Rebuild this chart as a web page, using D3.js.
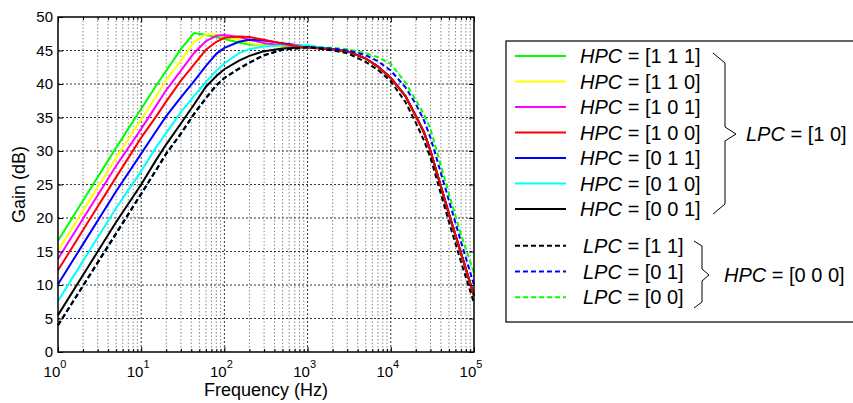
<!DOCTYPE html>
<html><head><meta charset="utf-8">
<script src="https://cdn.jsdelivr.net/npm/d3@7"></script>
<style>
body{margin:0;background:#fff}
svg{display:block;font-family:"Liberation Sans",Arial,Helvetica,sans-serif}
</style>
</head><body><svg id="c" width="853" height="403"></svg>
<script>
// ---- data ----
const freqs = [1, 2, 5, 10, 15, 20, 30, 43, 60, 80, 100, 150, 200, 300, 500, 1000, 2000, 3000, 5000, 7000, 10000, 15000, 20000, 25000, 30000, 50000, 70000, 100000];
const hpc111 = [16.6, 22.6, 30.5, 36.3, 39.7, 42.0, 45.2, 47.6, 47.3, 47.0, 46.7, 46.2, 45.9, 45.8, 45.7, 45.5, 45.2, 44.9, 43.8, 42.6, 40.9, 38.2, 35.2, 32.8, 30.0, 20.6, 14.7, 8.4];
const hpc110 = [15.1, 21.1, 29.0, 34.7, 38.1, 40.6, 43.5, 46.3, 47.4, 47.4, 47.1, 46.6, 46.1, 45.7, 45.6, 45.5, 45.2, 44.9, 43.8, 42.6, 40.9, 38.2, 35.2, 32.8, 30.0, 20.6, 14.7, 8.4];
const hpc101 = [13.9, 19.9, 27.8, 33.3, 36.7, 39.1, 42.0, 44.6, 46.4, 47.2, 47.3, 47.0, 46.6, 46.1, 45.8, 45.5, 45.2, 44.9, 43.8, 42.6, 40.9, 38.2, 35.2, 32.8, 30.0, 20.6, 14.7, 8.4];
const hpc100 = [12.2, 18.2, 26.1, 32.0, 35.1, 37.4, 40.5, 42.9, 45.1, 46.3, 46.9, 47.1, 47.0, 46.6, 46.0, 45.4, 45.2, 44.9, 43.8, 42.6, 40.9, 38.2, 35.2, 32.8, 30.0, 20.6, 14.7, 8.4];
const hpc011 = [10.1, 16.1, 24.0, 29.6, 32.9, 35.2, 38.0, 40.4, 42.7, 44.5, 45.4, 46.3, 46.6, 46.5, 46.1, 45.6, 45.2, 44.9, 43.8, 42.6, 40.9, 38.2, 35.2, 32.8, 30.0, 20.6, 14.7, 8.4];
const hpc010 = [7.6, 13.6, 21.5, 27.0, 30.5, 32.7, 35.8, 38.2, 40.3, 42.0, 43.1, 44.6, 45.2, 45.6, 45.8, 45.8, 45.2, 44.9, 43.8, 42.6, 40.9, 38.2, 35.2, 32.8, 30.0, 20.6, 14.7, 8.4];
const hpc001 = [5.5, 11.5, 19.4, 25.0, 28.6, 31.0, 34.1, 36.9, 39.6, 41.2, 42.2, 43.5, 44.2, 44.9, 45.3, 45.5, 45.2, 44.9, 43.8, 42.6, 40.9, 38.2, 35.2, 32.8, 30.0, 20.6, 14.7, 8.4];
const lpc11 = [4.0, 9.9, 17.7, 23.6, 27.1, 29.6, 32.6, 35.5, 37.9, 39.8, 40.9, 42.3, 43.2, 44.3, 45.1, 45.5, 45.0, 44.6, 43.3, 42.1, 40.4, 37.3, 34.2, 31.6, 29.0, 19.4, 13.4, 7.3];
const lpc01 = [4.0, 9.9, 17.7, 23.6, 27.1, 29.6, 32.6, 35.5, 37.9, 39.8, 40.9, 42.3, 43.2, 44.3, 45.1, 45.5, 45.3, 45.0, 44.3, 43.4, 42.0, 39.5, 37.0, 34.6, 32.0, 22.6, 16.4, 10.0];
const lpc00 = [4.0, 9.9, 17.7, 23.6, 27.1, 29.6, 32.6, 35.5, 37.9, 39.8, 40.9, 42.3, 43.2, 44.3, 45.1, 45.5, 45.4, 45.2, 44.6, 44.0, 43.0, 40.2, 37.6, 35.5, 33.3, 23.6, 17.5, 11.8];
const yTicks = [0, 5, 10, 15, 20, 25, 30, 35, 40, 45, 50];
const xTickExps = [0, 1, 2, 3, 4, 5];
const xLabel = "Frequency (Hz)";
const yLabel = "Gain (dB)";
const solidLabels = ["[1 1 1]", "[1 1 0]", "[1 0 1]", "[1 0 0]", "[0 1 1]", "[0 1 0]", "[0 0 1]"];
const dashedLabels = ["[1 1]", "[0 1]", "[0 0]"];

// ---- series definitions ----
const solid = [
  {v: hpc111, c: "#00ff00"}, {v: hpc110, c: "#ffff00"}, {v: hpc101, c: "#ff00ff"},
  {v: hpc100, c: "#ff0000"}, {v: hpc011, c: "#0000ff"}, {v: hpc010, c: "#00ffff"},
  {v: hpc001, c: "#000000"}
];
const dashed = [{v: lpc11, c: "#000000"}, {v: lpc01, c: "#0000ff"}, {v: lpc00, c: "#00ff00"}];

const svg = d3.select("#c");
const L = 58, R = 474, T = 17, B = 352;
const x = d3.scaleLog().domain([1, 1e5]).range([L, R]);
const y = d3.scaleLinear().domain([0, 50]).range([B, T]);

// grid
const minor = [];
for (let e = 0; e < 5; e++) for (let m = 2; m <= 9; m++) minor.push(m * Math.pow(10, e));
const major = [10, 100, 1000, 10000];
const g = svg.append("g");
g.selectAll("line.mn").data(minor).join("line")
  .attr("x1", d => x(d)).attr("x2", d => x(d)).attr("y1", T).attr("y2", B)
  .attr("stroke", "#888").attr("stroke-width", 1).attr("stroke-dasharray", "1.5,2");
g.selectAll("line.mj").data(major).join("line")
  .attr("x1", d => x(d)).attr("x2", d => x(d)).attr("y1", T).attr("y2", B)
  .attr("stroke", "#333").attr("stroke-width", 1).attr("stroke-dasharray", "2,2");
g.selectAll("line.hz").data(yTicks.slice(1, -1)).join("line")
  .attr("x1", L).attr("x2", R).attr("y1", d => y(d)).attr("y2", d => y(d))
  .attr("stroke", "#333").attr("stroke-width", 1).attr("stroke-dasharray", "2,2");

// lines
const line = d3.line().x((d, i) => x(freqs[i])).y(d => y(d));
const solidOrder = [0, 1, 2, 4, 5, 6, 3];
svg.append("g").selectAll("path").data(solidOrder.map(i => solid[i])).join("path")
  .attr("d", d => line(d.v)).attr("fill", "none").attr("stroke", d => d.c).attr("stroke-width", 2);
svg.append("g").selectAll("path").data([dashed[2], dashed[1], dashed[0]]).join("path")
  .attr("d", d => line(d.v)).attr("fill", "none").attr("stroke", d => d.c)
  .attr("stroke-width", 2).attr("stroke-dasharray", "5,3");

// axes box & ticks
svg.append("rect").attr("x", L).attr("y", T).attr("width", R - L).attr("height", B - T)
  .attr("fill", "none").attr("stroke", "#000").attr("stroke-width", 1.5);
const yAx = svg.append("g").attr("transform", `translate(${L},0)`)
  .call(d3.axisLeft(y).tickValues(yTicks).tickSizeInner(-5).tickSizeOuter(0).tickPadding(5));
yAx.select(".domain").remove();
yAx.selectAll("text").attr("font-size", 15).attr("fill", "#000").attr("font-family", "Liberation Sans, Arial, sans-serif");
svg.append("g").attr("transform", `translate(${R},0)`)
  .call(d3.axisRight(y).tickValues(yTicks).tickSizeInner(-5).tickSizeOuter(0).tickFormat(""))
  .select(".domain").remove();
const xb = svg.append("g").attr("transform", `translate(0,${B})`)
  .call(d3.axisBottom(x).tickValues(xTickExps.map(e => Math.pow(10, e))).tickSizeInner(-5).tickSizeOuter(0).tickFormat(""));
xb.select(".domain").remove();
svg.append("g").attr("transform", `translate(0,${B})`)
  .call(d3.axisBottom(x).tickValues(minor).tickSizeInner(-3).tickSizeOuter(0).tickFormat(""))
  .select(".domain").remove();
svg.append("g").attr("transform", `translate(0,${T})`)
  .call(d3.axisTop(x).tickValues(xTickExps.map(e => Math.pow(10, e))).tickSizeInner(-5).tickSizeOuter(0).tickFormat(""))
  .select(".domain").remove();
svg.append("g").attr("transform", `translate(0,${T})`)
  .call(d3.axisTop(x).tickValues(minor).tickSizeInner(-3).tickSizeOuter(0).tickFormat(""))
  .select(".domain").remove();

// x tick labels 10^n
const xl = svg.append("g").selectAll("text").data(xTickExps).join("text")
  .attr("x", d => x(Math.pow(10, d)) - 3).attr("y", 377).attr("text-anchor", "middle")
  .attr("font-size", 15).attr("fill", "#000");
xl.append("tspan").text("10");
xl.append("tspan").attr("dy", -9).attr("font-size", 11).text(d => d);

// axis titles
svg.append("text").attr("x", (L + R) / 2).attr("y", 396).attr("text-anchor", "middle")
  .attr("font-size", 18).text(xLabel);
svg.append("text").attr("transform", `translate(25,${(T + B) / 2}) rotate(-90)`)
  .attr("text-anchor", "middle").attr("font-size", 18).text(yLabel);

// legend
const lg = svg.append("g");
lg.append("rect").attr("x", 506).attr("y", 41).attr("width", 360).attr("height", 281)
  .attr("fill", "#fff").attr("stroke", "#000").attr("stroke-width", 1.2);
const rowY0 = 56, rowDy = 25.5;
solid.forEach((s, i) => {
  const yy = rowY0 + i * rowDy;
  lg.append("line").attr("x1", 515).attr("x2", 566).attr("y1", yy).attr("y2", yy)
    .attr("stroke", s.c).attr("stroke-width", 2);
  const t = lg.append("text").attr("x", 580).attr("y", yy + 7).attr("font-size", 20);
  t.append("tspan").attr("font-style", "italic").text("HPC");
  t.append("tspan").text(" = " + solidLabels[i]);
});
const dY0 = 245.7, dDy = 25.8;
dashed.forEach((s, i) => {
  const yy = dY0 + i * dDy;
  lg.append("line").attr("x1", 515).attr("x2", 566).attr("y1", yy).attr("y2", yy)
    .attr("stroke", s.c).attr("stroke-width", 2).attr("stroke-dasharray", "5,3");
  const t = lg.append("text").attr("x", 583).attr("y", yy + 7).attr("font-size", 20);
  t.append("tspan").attr("font-style", "italic").text("LPC");
  t.append("tspan").text(" = " + dashedLabels[i]);
});
// braces
lg.append("path").attr("d", "M713,53 L725,63 L725,127 L736,134 L725,141 L725,204 L713,214")
  .attr("fill", "none").attr("stroke", "#000").attr("stroke-width", 1);
lg.append("path").attr("d", "M694,241 L702,246 L702,269 L709,275 L702,281 L702,302 L694,308")
  .attr("fill", "none").attr("stroke", "#000").attr("stroke-width", 1);
const t1 = lg.append("text").attr("x", 746).attr("y", 141).attr("font-size", 20);
t1.append("tspan").attr("font-style", "italic").text("LPC");
t1.append("tspan").text(" = [1 0]");
const t2 = lg.append("text").attr("x", 724).attr("y", 282).attr("font-size", 20);
t2.append("tspan").attr("font-style", "italic").text("HPC");
t2.append("tspan").text(" = [0 0 0]");
</script></body></html>
